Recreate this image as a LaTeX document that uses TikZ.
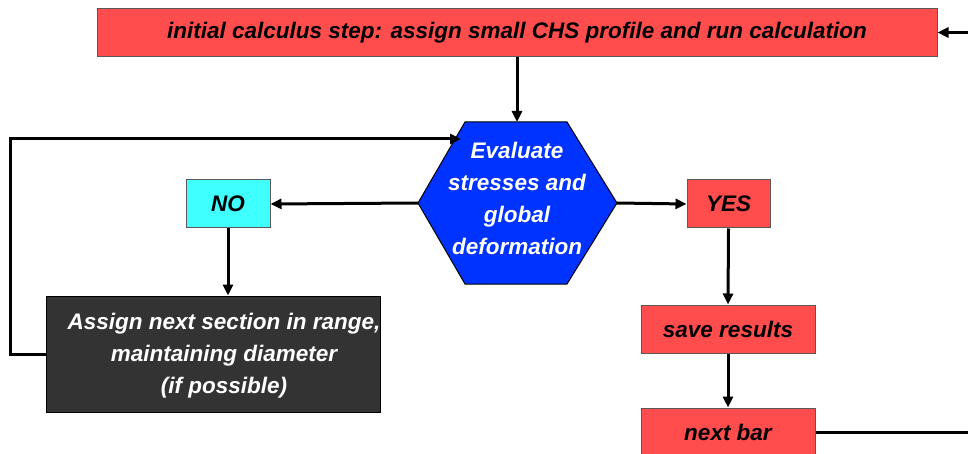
\documentclass[tikz,border=0pt]{standalone}
\usepackage{fontspec}
\setmainfont{Liberation Sans}
\usetikzlibrary{arrows.meta}

\definecolor{boxred}{RGB}{255,77,77}
\definecolor{boxcyan}{RGB}{64,255,255}
\definecolor{boxdark}{RGB}{51,51,51}
\definecolor{hexblue}{RGB}{0,51,255}

\tikzset{
  flowbox/.style={draw=gray!70!black, line width=1pt, fill=boxred, minimum height=48pt,
    inner sep=0pt, align=center, font=\fontsize{22.5}{32}\selectfont\bfseries\itshape},
  whitetext/.style={align=center, text=white, inner sep=0pt,
    font=\fontsize{22.5}{32}\selectfont\bfseries\itshape},
  link/.style={line width=3pt, -{Triangle[length=11pt,width=10pt]}},
}

\begin{document}
\begin{tikzpicture}[x=1pt,y=-1pt]

\useasboundingbox (0,0) rectangle (968,454);
\clip (0,0) rectangle (968,454);

%% boxes
\node[flowbox, minimum width=840pt] (init) at (517,32.5)
  {initial calculus step: assign small CHS profile and run calculation};
\node[flowbox, fill=boxcyan, minimum width=84pt] (no) at (228,204) {NO};
\node[flowbox, minimum width=83pt] (yes) at (728.5,204) {YES};
\node[flowbox, fill=boxdark, draw=black, minimum width=334pt,
  minimum height=116pt] (assign) at (213,354) {};
\node[whitetext] (assignText) at (224,356)
  {Assign next section in range,\\ maintaining diameter\\ (if possible)};
\node[flowbox, minimum width=174pt] (save) at (728,329) {save results};
\node[flowbox, minimum width=174pt] (next) at (728,432) {next bar};

%% hexagon
\coordinate (evalN) at (517,122);
\coordinate (evalW) at (418,203);
\coordinate (evalE) at (617,203);
\coordinate (evalNW) at (461,139);
\draw[fill=hexblue, line width=1pt] (465,122) -- (567,122) -- (evalE) -- (567,284)
  -- (465,284) -- (evalW) -- cycle;
\node[whitetext] (eval) at (517,198) {Evaluate\\ stresses and\\ global\\ deformation};

%% connectors
\draw[link] (init.south) -- (evalN);
\draw[link] (evalW) -- (no.east);
\draw[link] (evalE) -- (yes.west);
\draw[link] (no.south) -- (no.south |- assign.north);
\draw[link] (yes.south) -- (save.north);
\draw[link] (save.south) -- (next.north);
\draw[link] (assign.west) -- ++(-35,0) |- (evalNW);
\draw[link] (next.east) -- ++(200,0) |- (init.east);

\end{tikzpicture}
\end{document}
